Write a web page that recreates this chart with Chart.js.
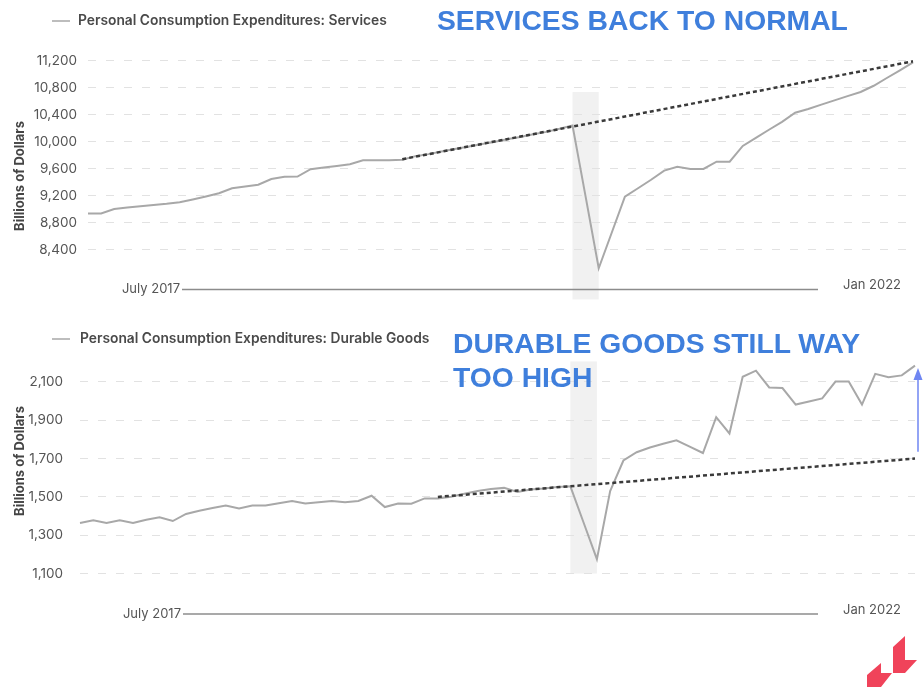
<!DOCTYPE html>
<html>
<head>
<meta charset="utf-8">
<script src="https://cdn.jsdelivr.net/npm/chart.js@4.4.1/dist/chart.umd.min.js"></script>
<style>
  html, body { margin: 0; padding: 0; background: #fff; }
  #page { position: relative; width: 923px; height: 692px; overflow: hidden; background: #fff; }
  .panel { position: absolute; left: 0; width: 923px; }
  .panel canvas { display: block; }
  .headline {
    position: absolute; white-space: nowrap;
    font-family: "Liberation Sans", Arial, sans-serif; font-weight: bold; font-size: 28.3px;
    color: #3f7fdc;
  }
  #logo { position: absolute; left: 860px; top: 630px; }
</style>
</head>
<body>
<div id="page">
  <div class="panel" style="top:0;height:330px"><canvas id="servicesChart" width="923" height="330"></canvas></div>
  <div class="panel" style="top:330px;height:362px"><canvas id="durablesChart" width="923" height="362"></canvas></div>
  <div class="headline" style="left:437px;top:6px;line-height:28px">SERVICES BACK TO NORMAL</div>
  <div class="headline" style="left:453px;top:326px;line-height:34px">DURABLE GOODS STILL WAY<br>TOO HIGH</div>
  <svg id="logo" width="60" height="60" viewBox="860 630 60 60">
    <polygon points="867,675 881,663 881,673 892,673 881,687 867,687" fill="#f0435a"/>
    <polygon points="893,647 905,636 905,660 917,660 905,673 893,673" fill="#f0435a"/>
  </svg>
</div>
<script>
// Monthly observations, Jan 2017 – Apr 2022
const months = [
  'Jan 2017','Feb 2017','Mar 2017','Apr 2017','May 2017','Jun 2017','Jul 2017','Aug 2017','Sep 2017','Oct 2017','Nov 2017','Dec 2017',
  'Jan 2018','Feb 2018','Mar 2018','Apr 2018','May 2018','Jun 2018','Jul 2018','Aug 2018','Sep 2018','Oct 2018','Nov 2018','Dec 2018',
  'Jan 2019','Feb 2019','Mar 2019','Apr 2019','May 2019','Jun 2019','Jul 2019','Aug 2019','Sep 2019','Oct 2019','Nov 2019','Dec 2019',
  'Jan 2020','Feb 2020','Mar 2020','Apr 2020','May 2020','Jun 2020','Jul 2020','Aug 2020','Sep 2020','Oct 2020','Nov 2020','Dec 2020',
  'Jan 2021','Feb 2021','Mar 2021','Apr 2021','May 2021','Jun 2021','Jul 2021','Aug 2021','Sep 2021','Oct 2021','Nov 2021','Dec 2021',
  'Jan 2022','Feb 2022','Mar 2022','Apr 2022'
];

// Personal Consumption Expenditures: Services (billions of dollars)
const servicesValues = [
  8940, 8940, 9007, 9030, 9047, 9067, 9084, 9107, 9148, 9193, 9240, 9314,
  9341, 9367, 9452, 9486, 9488, 9596, 9621, 9644, 9670, 9729, 9729, 9729,
  9736, 9790, 9820, 9860, 9895, 9930, 9965, 10000, 10040, 10075, 10115, 10150,
  10195, 10245, 9190, 8129, 8659, 9190, 9315, 9440, 9575, 9634, 9600, 9600,
  9708, 9708, 9941, 10061, 10181, 10299, 10434, 10489, 10554, 10616, 10680, 10741,
  10833, 10948, 11062, 11178
];

// Personal Consumption Expenditures: Durable Goods (billions of dollars)
const durablesValues = [
  1364, 1378, 1364, 1378, 1364, 1381, 1394, 1374, 1411, 1428, 1442, 1455,
  1439, 1455, 1455, 1467, 1479, 1465, 1472, 1479, 1472, 1479, 1506, 1447,
  1465, 1464, 1492, 1492, 1501, 1516, 1531, 1541, 1547, 1526, 1538, 1544,
  1552, 1555, 1365, 1175, 1530, 1690, 1733, 1758, 1777, 1795, 1762, 1729,
  1916, 1831, 2127, 2159, 2071, 2068, 1982, 1998, 2014, 2102, 2102, 1982,
  2142, 2125, 2134, 2185
];

// Pre-pandemic trend lines (start and end points)
const servicesTrend = [ { x: 'Jan 2019', y: 9745 }, { x: 'Apr 2022', y: 11195 } ];
const durablesTrend = [ { x: 'Apr 2019', y: 1500 }, { x: 'Apr 2022', y: 1700 } ];

// Recession months shaded on both panels
const recession = ['Feb 2020', 'Apr 2020'];

// Y-axis tick values
const servicesTicks = [8400, 8800, 9200, 9600, 10000, 10400, 10800, 11200];
const durablesTicks = [1100, 1300, 1500, 1700, 1900, 2100];

// Labels of the time axis and series names
const axisLabels = ['July 2017', 'Jan 2022'];
const seriesNames = ['Personal Consumption Expenditures: Services', 'Personal Consumption Expenditures: Durable Goods'];
const yTitle = 'Billions of Dollars';

const FONT = 'Inter, "Noto Sans", sans-serif';

// Draws the recession band, legend, axis title, time axis and annotation arrow
const panelDecor = {
  id: 'panelDecor',
  beforeDraw(chart, args, o) {
    const { ctx, scales: { x, y } } = chart;
    const labels = x.getLabels();
    const x0 = x.getPixelForValue(labels.indexOf(o.band.from));
    const x1 = x.getPixelForValue(labels.indexOf(o.band.to));
    const y0 = y.getPixelForValue(o.band.top);
    const y1 = y.getPixelForValue(o.band.bottom);
    ctx.save();
    ctx.fillStyle = '#f1f1f1';
    ctx.fillRect(x0, y0, x1 - x0, y1 - y0);
    ctx.restore();
  },
  afterDraw(chart, args, o) {
    const { ctx, scales: { y } } = chart;
    ctx.save();

    // legend
    ctx.strokeStyle = '#bdbdbd';
    ctx.lineWidth = 2;
    ctx.beginPath();
    ctx.moveTo(o.legend.x, o.legend.y);
    ctx.lineTo(o.legend.x + 18, o.legend.y);
    ctx.stroke();
    ctx.font = '600 13.8px ' + FONT;
    ctx.fillStyle = '#4a4a4a';
    ctx.textBaseline = 'middle';
    ctx.textAlign = 'left';
    ctx.fillText(o.legend.text, o.legend.x + o.legend.gap, o.legend.y);

    // rotated y-axis title
    ctx.save();
    ctx.translate(o.title.x, o.title.y);
    ctx.rotate(-Math.PI / 2);
    ctx.font = 'bold 13px ' + FONT;
    ctx.fillStyle = '#444';
    ctx.textAlign = 'center';
    ctx.fillText(yTitle, 0, 0);
    ctx.restore();

    // time axis: start label, rule, end label
    ctx.strokeStyle = '#8c8c8c';
    ctx.lineWidth = 1.5;
    ctx.beginPath();
    ctx.moveTo(o.axis.from, o.axis.y);
    ctx.lineTo(o.axis.to, o.axis.y);
    ctx.stroke();
    ctx.font = '13px ' + FONT;
    ctx.fillStyle = '#555';
    ctx.textAlign = 'right';
    ctx.fillText(axisLabels[0], o.axis.from - 2, o.axis.y);
    ctx.textAlign = 'left';
    ctx.fillText(axisLabels[1], o.axis.endX, o.axis.y - 4);

    // gap arrow between trend and actual
    if (o.arrow) {
      const ax = chart.chartArea.right + 3;
      const yb = y.getPixelForValue(o.arrow.from);
      const yt = y.getPixelForValue(o.arrow.to);
      ctx.strokeStyle = '#6f86f2';
      ctx.fillStyle = '#6f86f2';
      ctx.lineWidth = 1.5;
      ctx.beginPath();
      ctx.moveTo(ax, yb);
      ctx.lineTo(ax, yt + 10);
      ctx.stroke();
      ctx.beginPath();
      ctx.moveTo(ax, yt);
      ctx.lineTo(ax - 4.5, yt + 12);
      ctx.lineTo(ax + 4.5, yt + 12);
      ctx.closePath();
      ctx.fill();
    }
    ctx.restore();
  }
};

function makePanel(canvasId, cfg) {
  return new Chart(document.getElementById(canvasId), {
    type: 'line',
    data: {
      labels: months,
      datasets: [
        {
          data: cfg.trend,
          borderColor: '#3a3a3a',
          borderWidth: 2.5,
          borderDash: [4, 3],
          pointRadius: 0,
          order: 0
        },
        {
          data: cfg.values,
          borderColor: '#a8a8a8',
          borderWidth: 2,
          pointRadius: 0,
          tension: 0,
          order: 1
        }
      ]
    },
    options: {
      responsive: false,
      animation: false,
      events: [],
      layout: { padding: cfg.padding },
      plugins: {
        legend: { display: false },
        tooltip: { enabled: false },
        panelDecor: cfg.decor
      },
      scales: {
        x: { type: 'category', display: false, offset: false },
        y: {
          min: cfg.min,
          max: cfg.max,
          afterFit(scale) { scale.width = cfg.axisWidth; },
          afterBuildTicks(scale) { scale.ticks = cfg.ticks.map(v => ({ value: v })); },
          ticks: {
            font: { family: FONT, size: 13.5 },
            color: '#555',
            padding: cfg.tickPad,
            callback: v => Number(v).toLocaleString('en-US')
          },
          grid: { color: '#e2e2e2', lineWidth: 1, drawTicks: false },
          border: { display: false, dash: [8, 10] }
        }
      }
    },
    plugins: [panelDecor]
  });
}

makePanel('servicesChart', {
  values: servicesValues,
  trend: servicesTrend,
  ticks: servicesTicks,
  min: 7718,
  max: 11274,
  axisWidth: 88,
  tickPad: 11,
  padding: { top: 56, bottom: 34, left: 0, right: 10 },
  decor: {
    band: { from: recession[0], to: recession[1], top: 10740, bottom: 7667 },
    legend: { x: 52, y: 21, gap: 26, text: seriesNames[0] },
    title: { x: 20, y: 176 },
    axis: { y: 289.5, from: 182, to: 818, endX: 843 }
  }
});

makePanel('durablesChart', {
  values: durablesValues,
  trend: durablesTrend,
  ticks: durablesTicks,
  min: 1000,
  max: 2240,
  axisWidth: 80,
  tickPad: 17,
  padding: { top: 18.4, bottom: 99.3, left: 0, right: 8 },
  decor: {
    band: { from: recession[0], to: recession[1], top: 2207, bottom: 1100 },
    legend: { x: 52, y: 9, gap: 28, text: seriesNames[1] },
    title: { x: 20, y: 131 },
    axis: { y: 284, from: 183, to: 818, endX: 843 },
    arrow: { from: 1735, to: 2173 }
  }
});
</script>
</body>
</html>
